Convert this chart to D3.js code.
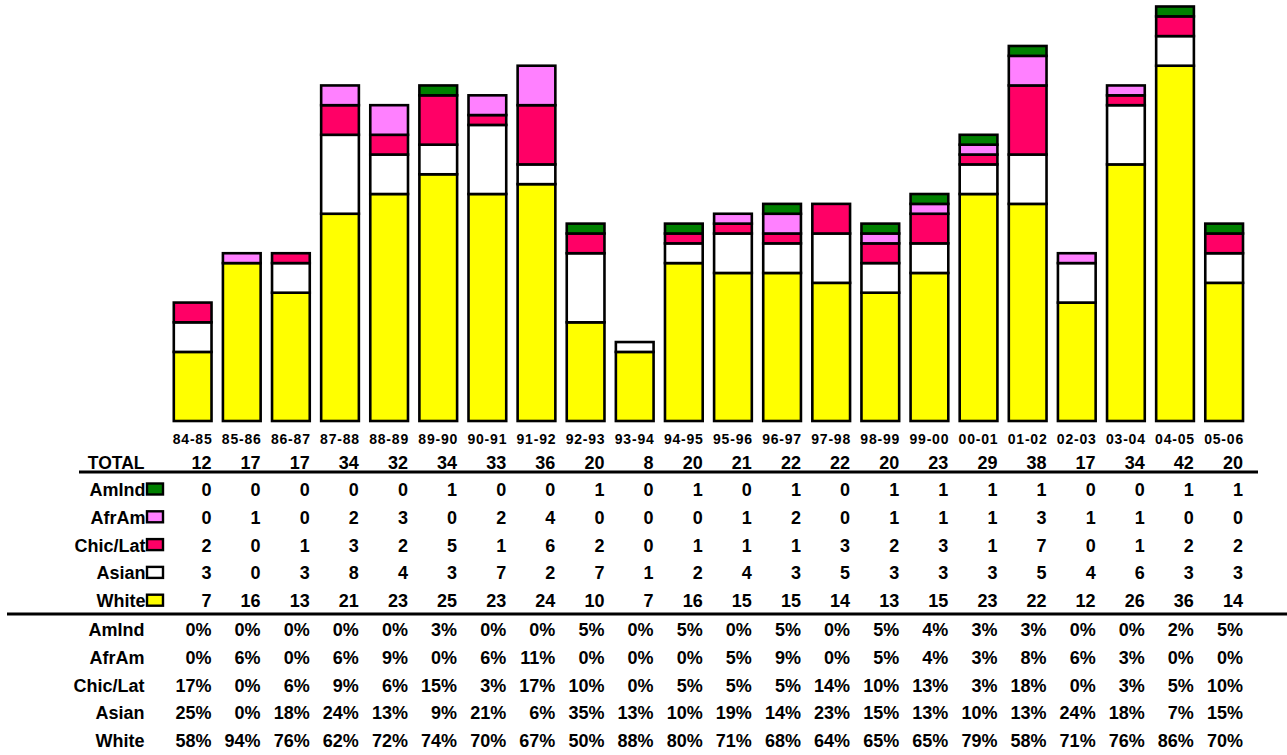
<!DOCTYPE html>
<html>
<head>
<meta charset="utf-8">
<script src="https://cdn.jsdelivr.net/npm/d3@7/dist/d3.min.js"></script>
<style>
  html, body { margin: 0; padding: 0; background: #ffffff; }
  svg { display: block; }
  text { font-family: "Liberation Sans", Arial, sans-serif; font-weight: bold; fill: #000; }
</style>
</head>
<body>
<svg id="chart" width="1287" height="755"></svg>
<script>
const categories = ["84-85","85-86","86-87","87-88","88-89","89-90","90-91","91-92","92-93","93-94","94-95","95-96","96-97","97-98","98-99","99-00","00-01","01-02","02-03","03-04","04-05","05-06"];

const amInd  = [0,0,0,0,0,1,0,0,1,0,1,0,1,0,1,1,1,1,0,0,1,1];
const afrAm  = [0,1,0,2,3,0,2,4,0,0,0,1,2,0,1,1,1,3,1,1,0,0];
const chicLat= [2,0,1,3,2,5,1,6,2,0,1,1,1,3,2,3,1,7,0,1,2,2];
const asian  = [3,0,3,8,4,3,7,2,7,1,2,4,3,5,3,3,3,5,4,6,3,3];
const white  = [7,16,13,21,23,25,23,24,10,7,16,15,15,14,13,15,23,22,12,26,36,14];
const totals = [12,17,17,34,32,34,33,36,20,8,20,21,22,22,20,23,29,38,17,34,42,20];

const pctAmInd  = [0,0,0,0,0,3,0,0,5,0,5,0,5,0,5,4,3,3,0,0,2,5];
const pctAfrAm  = [0,6,0,6,9,0,6,11,0,0,0,5,9,0,5,4,3,8,6,3,0,0];
const pctChicLat= [17,0,6,9,6,15,3,17,10,0,5,5,5,14,10,13,3,18,0,3,5,10];
const pctAsian  = [25,0,18,24,13,9,21,6,35,13,10,19,14,23,15,13,10,13,24,18,7,15];
const pctWhite  = [58,94,76,62,72,74,70,67,50,88,80,71,68,64,65,65,79,58,71,76,86,70];

// series listed bottom-to-top in the stack
const seriesNames = ["White","Asian","Chic/Lat","AfrAm","AmInd"];
const seriesValues = [white, asian, chicLat, afrAm, amInd];
const seriesColors = ["#FFFF00","#FFFFFF","#FF0066","#FF80FF","#008000"];

const svg = d3.select("#chart");

const x = d3.scaleBand().domain(categories).range([168.1, 1248.7]).paddingInner(0.232).paddingOuter(0.116);
const y = d3.scaleLinear().domain([0, 42]).range([421, 6.5]);

// build stack table
const table = categories.map((c, i) => {
  const row = { cat: c };
  seriesNames.forEach((s, k) => row[s] = seriesValues[k][i]);
  return row;
});
const stacked = d3.stack().keys(seriesNames)(table);

const gBars = svg.append("g");
stacked.forEach((layer, k) => {
  gBars.selectAll(null)
    .data(layer.filter(d => d[1] - d[0] > 0))
    .enter().append("rect")
    .attr("x", d => x(d.data.cat))
    .attr("width", x.bandwidth())
    .attr("y", d => y(d[1]))
    .attr("height", d => y(d[0]) - y(d[1]))
    .attr("fill", seriesColors[k])
    .attr("stroke", "#000")
    .attr("stroke-width", 2.6);
});

// category labels
const xRight = c => x(c) + x.bandwidth();
svg.append("g").selectAll("text").data(categories).enter().append("text")
  .attr("x", c => xRight(c) + 1)
  .attr("y", 444)
  .attr("text-anchor", "end")
  .style("font-size", "14px")
  .style("letter-spacing", "0.8px")
  .text(c => c);

const labelRight = 144.5;
const fs = "18px";

// TOTAL row
svg.append("text").attr("x", labelRight).attr("y", 468.5).attr("text-anchor", "end")
  .style("font-size", "17.5px").text("TOTAL");
svg.append("g").selectAll("text").data(totals).enter().append("text")
  .attr("x", (d, i) => xRight(categories[i]))
  .attr("y", 468.5).attr("text-anchor", "end").style("font-size", fs)
  .text(d => d);

svg.append("line").attr("x1", 79).attr("x2", 1258).attr("y1", 472).attr("y2", 472)
  .attr("stroke", "#000").attr("stroke-width", 3);

// count rows (top to bottom)
const countRows = [
  { name: "AmInd", vals: amInd, color: "#008000" },
  { name: "AfrAm", vals: afrAm, color: "#FF80FF" },
  { name: "Chic/Lat", vals: chicLat, color: "#FF0066" },
  { name: "Asian", vals: asian, color: "#FFFFFF" },
  { name: "White", vals: white, color: "#FFFF00" }
];
const rowStep = 27.8;
countRows.forEach((r, j) => {
  const by = 496 + j * rowStep;
  svg.append("text").attr("x", labelRight + 1).attr("y", by).attr("text-anchor", "end")
    .style("font-size", fs).text(r.name);
  svg.append("rect").attr("x", 147).attr("y", by - 12.5).attr("width", 16).attr("height", 11)
    .attr("fill", r.color).attr("stroke", "#000").attr("stroke-width", 2.4);
  svg.append("g").selectAll("text").data(r.vals).enter().append("text")
    .attr("x", (d, i) => xRight(categories[i]))
    .attr("y", by).attr("text-anchor", "end").style("font-size", fs)
    .text(d => d);
});

svg.append("line").attr("x1", 7).attr("x2", 1287).attr("y1", 614).attr("y2", 614)
  .attr("stroke", "#000").attr("stroke-width", 3);

// percentage rows
const pctRows = [
  { name: "AmInd", vals: pctAmInd },
  { name: "AfrAm", vals: pctAfrAm },
  { name: "Chic/Lat", vals: pctChicLat },
  { name: "Asian", vals: pctAsian },
  { name: "White", vals: pctWhite }
];
pctRows.forEach((r, j) => {
  const by = 636 + j * rowStep;
  svg.append("text").attr("x", labelRight).attr("y", by).attr("text-anchor", "end")
    .style("font-size", fs).text(r.name);
  svg.append("g").selectAll("text").data(r.vals).enter().append("text")
    .attr("x", (d, i) => xRight(categories[i]))
    .attr("y", by).attr("text-anchor", "end").style("font-size", fs)
    .text(d => d + "%");
});
</script>
</body>
</html>
